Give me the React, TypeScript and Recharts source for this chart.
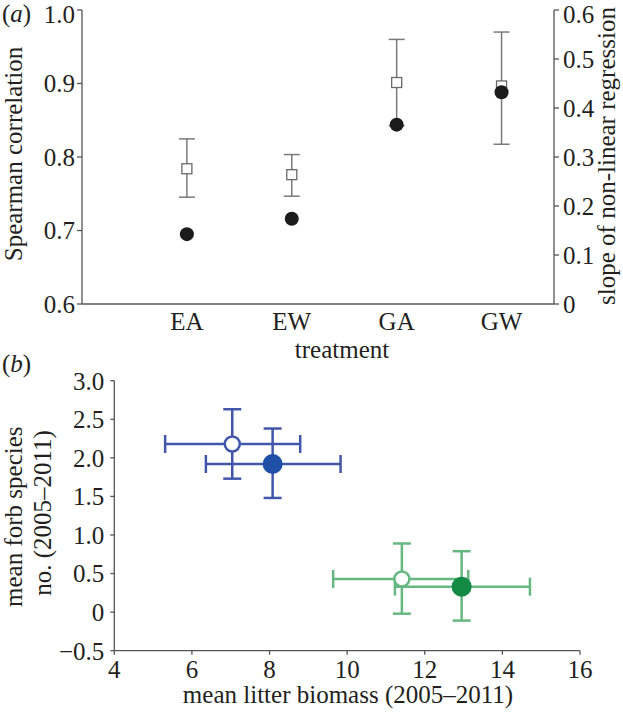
import React from 'react';
import { ScatterChart, Scatter, XAxis, YAxis, ErrorBar } from 'recharts';

// ---------- Panel (a) data ----------
const treatments = ['EA', 'EW', 'GA', 'GW'];
const treatmentPos = [1, 2, 3, 4];
const spearman = [0.695, 0.716, 0.844, 0.888];
const slope = [0.276, 0.264, 0.452, 0.445];
const slopeLower = [0.218, 0.22, 0.364, 0.326];
const slopeUpper = [0.337, 0.305, 0.54, 0.555];
const leftTicks = [0.6, 0.7, 0.8, 0.9, 1.0];
const rightTicks = [0, 0.1, 0.2, 0.3, 0.4, 0.5, 0.6];

// ---------- Panel (b) data ----------
const groups = ['EA', 'EW', 'GA', 'GW'];
const litterMean = [7.04, 8.08, 11.41, 12.95];
const litterLow = [5.31, 6.36, 9.64, 11.23];
const litterHigh = [8.79, 9.83, 13.12, 14.71];
const forbMean = [2.18, 1.92, 0.43, 0.33];
const forbLow = [1.73, 1.48, -0.02, -0.11];
const forbHigh = [2.63, 2.38, 0.89, 0.79];
const xTicksB = [4, 6, 8, 10, 12, 14, 16];
const yTicksB = [-0.5, 0, 0.5, 1.0, 1.5, 2.0, 2.5, 3.0];

const FONT = '"Liberation Serif", "Times New Roman", serif';
const TXT = '#231f20';
const AXIS = '#555';
const FS = 25;

const slopeData = treatments.map((t, i) => ({
  name: t,
  x: treatmentPos[i],
  y: slope[i],
  ey: [slope[i] - slopeLower[i], slopeUpper[i] - slope[i]],
}));
const spearmanData = treatments.map((t, i) => ({ name: t, x: treatmentPos[i], y: spearman[i] }));

const groupStyle: Record<string, { line: string; fill: string; open: boolean }> = {
  EA: { line: '#4257ab', fill: '#ffffff', open: true },
  EW: { line: '#4257ab', fill: '#1f4fa6', open: false },
  GA: { line: '#66b780', fill: '#ffffff', open: true },
  GW: { line: '#66b780', fill: '#148a45', open: false },
};

const groupData = groups.map((g, i) => [
  {
    name: g,
    x: litterMean[i],
    y: forbMean[i],
    ex: [litterMean[i] - litterLow[i], litterHigh[i] - litterMean[i]],
    ey: [forbMean[i] - forbLow[i], forbHigh[i] - forbMean[i]],
  },
]);

const SquareShape = (props: any) => {
  const { cx, cy } = props;
  return <rect x={cx - 5} y={cy - 5} width={10} height={10} fill="#fff" stroke="#6a6a6a" strokeWidth={1.3} />;
};
const BlackDot = (props: any) => <circle cx={props.cx} cy={props.cy} r={7} fill="#1b1b1b" />;

const makeDot = (g: string) => (props: any) => {
  const s = groupStyle[g];
  return s.open ? (
    <circle cx={props.cx} cy={props.cy} r={7.5} fill="#fff" stroke={s.line} strokeWidth={2.5} />
  ) : (
    <circle cx={props.cx} cy={props.cy} r={10} fill={s.fill} />
  );
};

const tickStyle = { fontSize: FS, fill: TXT, fontFamily: FONT };
const fmt1 = (v: number) => (v === 0 ? '0' : v < 0 ? '\u2212' + Math.abs(v).toFixed(1) : v.toFixed(1));

export default function App() {
  return (
    <div style={{ position: 'absolute', left: 0, top: 0, width: 623, height: 713, background: '#fff', fontFamily: FONT }}>
      <div style={{ position: 'absolute', left: 0, top: 0 }}>
        <ScatterChart width={623} height={340} margin={{ top: 10, right: 0, bottom: 0, left: 0 }}>
          <XAxis
            type="number"
            dataKey="x"
            domain={[0, 4.5]}
            ticks={treatmentPos}
            tickFormatter={(v: number) => treatments[v - 1] ?? ''}
            height={36}
            tickSize={0}
            tickMargin={8}
            tickLine={false}
            axisLine={{ stroke: AXIS, strokeWidth: 1.3 }}
            tick={tickStyle}
            allowDataOverflow
          />
          <YAxis
            yAxisId="left"
            type="number"
            dataKey="y"
            domain={[0.6, 1.0]}
            ticks={leftTicks}
            tickFormatter={fmt1}
            width={82}
            tickSize={5}
            tickMargin={2}
            axisLine={{ stroke: AXIS, strokeWidth: 1.3 }}
            tickLine={{ stroke: AXIS, strokeWidth: 1.3 }}
            tick={tickStyle}
            allowDataOverflow
          />
          <YAxis
            yAxisId="right"
            orientation="right"
            type="number"
            dataKey="y"
            domain={[0, 0.6]}
            ticks={rightTicks}
            tickFormatter={fmt1}
            width={69}
            tickSize={5}
            tickMargin={4}
            axisLine={{ stroke: AXIS, strokeWidth: 1.3 }}
            tickLine={{ stroke: AXIS, strokeWidth: 1.3 }}
            tick={tickStyle}
            allowDataOverflow
          />
          <Scatter yAxisId="right" data={slopeData} shape={SquareShape} isAnimationActive={false}>
            <ErrorBar dataKey="ey" direction="y" width={8} stroke="#7a7a7a" strokeWidth={1.5} />
          </Scatter>
          <Scatter yAxisId="left" data={spearmanData} shape={BlackDot} isAnimationActive={false} />
        </ScatterChart>
      </div>

      <div style={{ position: 'absolute', left: 0, top: 330 }}>
        <ScatterChart width={623} height={383} margin={{ top: 50.7, right: 43, bottom: 0, left: 0 }}>
          <XAxis
            type="number"
            dataKey="x"
            domain={[4, 16]}
            ticks={xTicksB}
            height={62.3}
            tickSize={4}
            tickMargin={6}
            axisLine={{ stroke: AXIS, strokeWidth: 1.3 }}
            tickLine={{ stroke: AXIS, strokeWidth: 1.3 }}
            tick={tickStyle}
            allowDataOverflow
          />
          <YAxis
            type="number"
            dataKey="y"
            domain={[-0.5, 3.0]}
            ticks={yTicksB}
            tickFormatter={fmt1}
            width={114.3}
            tickSize={4}
            tickMargin={6}
            axisLine={{ stroke: AXIS, strokeWidth: 1.3 }}
            tickLine={{ stroke: AXIS, strokeWidth: 1.3 }}
            tick={tickStyle}
            allowDataOverflow
          />
          {groups.map((g, i) => (
            <Scatter key={g} name={g} data={groupData[i]} shape={makeDot(g)} isAnimationActive={false}>
              <ErrorBar dataKey="ex" direction="x" width={9} stroke={groupStyle[g].line} strokeWidth={2.5} />
              <ErrorBar dataKey="ey" direction="y" width={9} stroke={groupStyle[g].line} strokeWidth={2.5} />
            </Scatter>
          ))}
        </ScatterChart>
      </div>

      <svg width={623} height={713} style={{ position: 'absolute', left: 0, top: 0, pointerEvents: 'none' }}>
        <g fontFamily={FONT} fill={TXT} fontSize={FS}>
          <text x={2} y={22}>(<tspan fontStyle="italic">a</tspan>)</text>
          <text x={21.5} y={154} textAnchor="middle" transform="rotate(-90 21.5 154)">Spearman correlation</text>
          <text x={615} y={156} textAnchor="middle" transform="rotate(-90 615 156)">slope of non-linear regression</text>
          <text x={342} y={358} textAnchor="middle">treatment</text>
          <text x={2} y={372}>(<tspan fontStyle="italic">b</tspan>)</text>
          <text x={22} y={516.7} textAnchor="middle" transform="rotate(-90 22 516.7)">mean forb species</text>
          <text x={51} y={513} textAnchor="middle" transform="rotate(-90 51 513)">no. (2005–2011)</text>
          <text x={348} y={703} textAnchor="middle">mean litter biomass (2005–2011)</text>
        </g>
      </svg>
    </div>
  );
}
